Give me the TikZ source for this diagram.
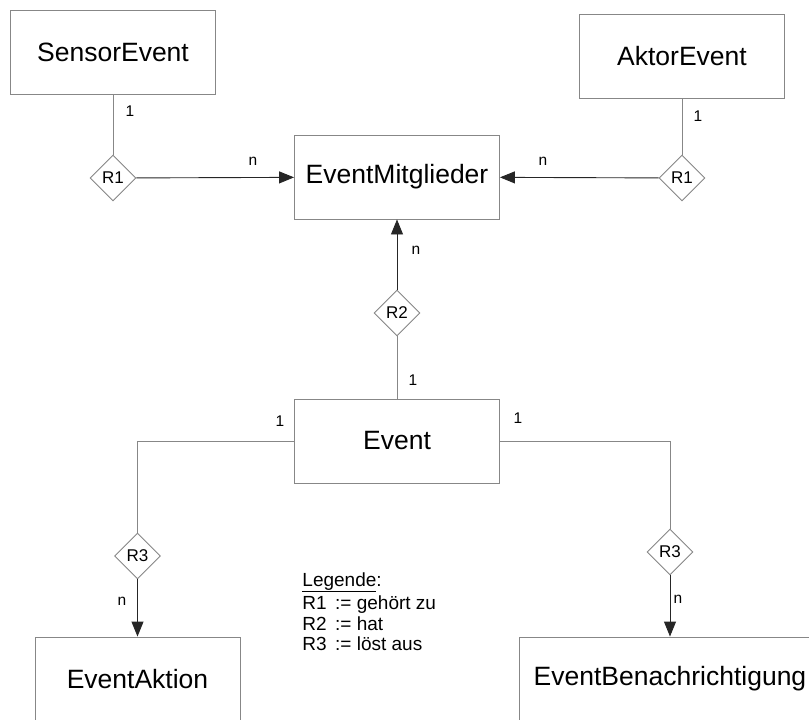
\documentclass[tikz,border=0pt]{standalone}
\usepackage{fontspec}
\setmainfont{Liberation Sans}
\usetikzlibrary{arrows.meta,shapes.geometric}
\definecolor{linegray}{RGB}{135,135,135}
\tikzstyle{entity} = [draw=linegray, fill=white, minimum width=205pt, minimum height=84pt, inner sep=0pt, font=\fontsize{26.5}{32}\selectfont]
\tikzstyle{relation} = [diamond, draw=linegray, fill=white, minimum width=46pt, minimum height=46pt, inner sep=0pt, font=\fontsize{17}{20}\selectfont]
\tikzstyle{card} = [font=\fontsize{15.5}{18}\selectfont]
\tikzstyle{plain} = [draw=linegray]
\tikzstyle{arrow} = [draw=black!85, -{Triangle[length=15pt,width=12pt]}]

\begin{document}
\begin{tikzpicture}[x=1pt, y=-1pt, line width=0.9pt]

	\useasboundingbox (0,0) rectangle (809,720);
	\clip (0,0) rectangle (809,720);

	% entities
	\node[entity] (sensor) at (113,52) {SensorEvent};
	\node[entity] (aktor) at (682,56) {AktorEvent};
	\node[entity] (mitglieder) at (397,177) {EventMitglieder};
	\node[entity] (event) at (397,441) {Event};
	\node[entity] (aktion) at (137.5,679) {EventAktion};
	\node[entity, minimum width=302pt] (benach) at (670,679) {EventBenachrichtigung};

	% relations
	\node[relation] (r1a) at (113,178) {R1};
	\node[relation] (r1b) at (682,178) {R1};
	\node[relation] (r2) at (397,313) {R2};
	\node[relation] (r3a) at (137.5,556) {R3};
	\node[relation] (r3b) at (670,552) {R3};

	\draw[plain] (sensor) -- (r1a);
	\draw[arrow] (r1a) -- (mitglieder);
	\draw[plain] (aktor) -- (r1b);
	\draw[arrow] (r1b) -- (mitglieder);
	\draw[plain] (event) -- (r2);
	\draw[arrow] (r2) -- (mitglieder);
	\draw[plain] (event.west) -| (r3a.north);
	\draw[arrow] (r3a) -- (aktion);
	\draw[plain] (event.east) -| (r3b.north);
	\draw[arrow] (r3b) -- (benach);

	% cardinalities
	\node[card] (c1) at (130,111) {1};
	\node[card] (c2) at (253,161) {n};
	\node[card] (c3) at (698,116) {1};
	\node[card] (c4) at (543,161) {n};
	\node[card] (c5) at (416,250) {n};
	\node[card] (c6) at (413,380) {1};
	\node[card] (c7) at (280,421) {1};
	\node[card] (c8) at (122,601) {n};
	\node[card] (c9) at (518,418) {1};
	\node[card] (c10) at (678,599) {n};

	\node[anchor=north west, align=left, inner sep=0pt, font=\fontsize{19}{20.5}\selectfont] (legende) at (302,572)
		{\underline{Legende}:\\[3pt]R1 \,:= gehört zu\\R2 \,:= hat\\R3 \,:= löst aus};

\end{tikzpicture}
\end{document}
